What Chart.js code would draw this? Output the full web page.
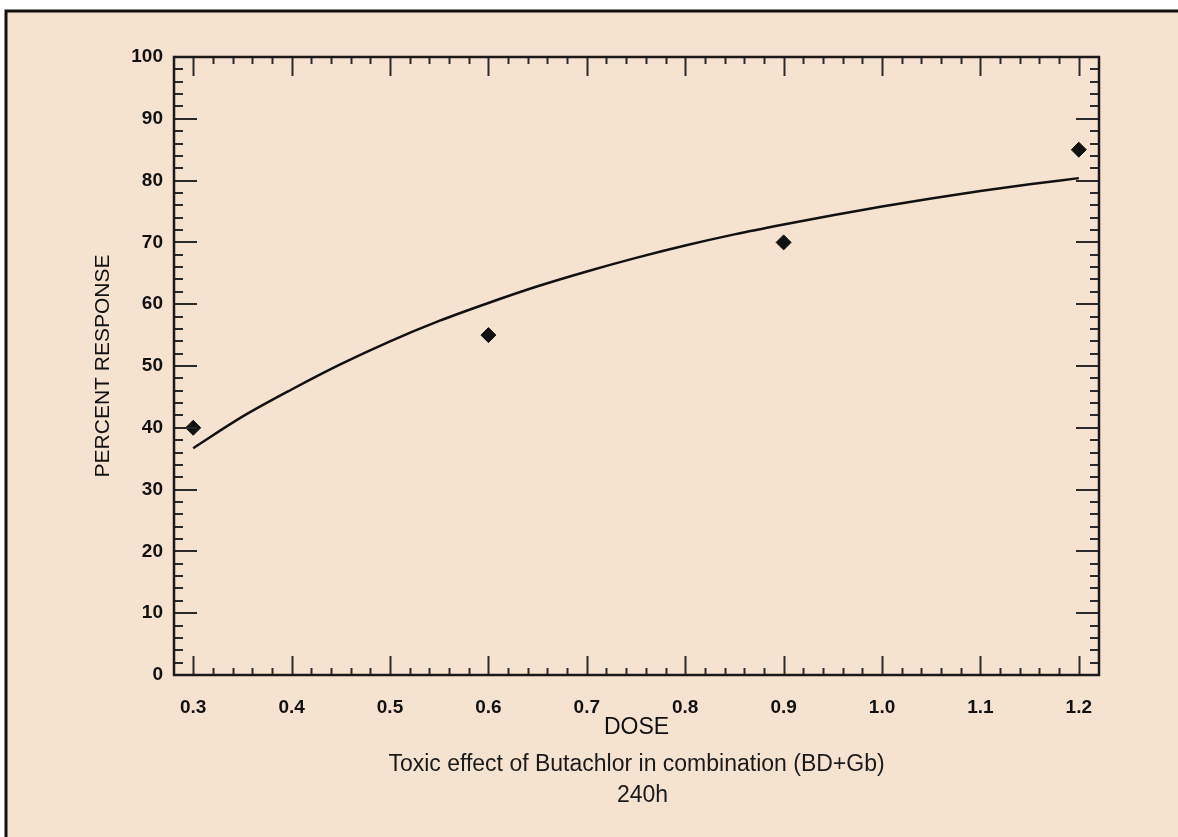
<!DOCTYPE html>
<html>
<head>
<meta charset="utf-8">
<script src="https://cdn.jsdelivr.net/npm/chart.js@4.4.1/dist/chart.umd.min.js"></script>
<style>
  html, body { margin: 0; padding: 0; background: #ffffff; }
  canvas { display: block; }
</style>
</head>
<body>
<canvas id="dose-chart" width="1178" height="837"></canvas>
<script>
// Fitted curve
const curveDose = [0.30, 0.35, 0.40, 0.45, 0.50, 0.55, 0.60, 0.65, 0.70, 0.75,
                   0.80, 0.85, 0.90, 0.95, 1.00, 1.05, 1.10, 1.15, 1.20];
const curveResponse = [36.7, 41.8, 46.2, 50.3, 54.0, 57.3, 60.2, 62.9, 65.3, 67.5,
                       69.5, 71.3, 72.9, 74.4, 75.8, 77.1, 78.3, 79.4, 80.4];

// Observed points (diamonds)
const obsDose = [0.3, 0.6, 0.9, 1.2];
const obsResponse = [40, 55, 70, 85];

// Tick labels
const xTickLabels = [0.3, 0.4, 0.5, 0.6, 0.7, 0.8, 0.9, 1.0, 1.1, 1.2];
const yTickLabels = [0, 10, 20, 30, 40, 50, 60, 70, 80, 90, 100];

const captionLines = ['Toxic effect of Butachlor in combination (BD+Gb)', '240h'];

Chart.defaults.font.family = '"Liberation Sans", Arial, sans-serif';
Chart.defaults.color = '#111';

const beige = '#f5e3d0';

// Page background with the black frame on top and left
const pageBackground = {
    id: 'pageBackground',
    beforeDraw(chart) {
        const ctx = chart.ctx;
        const w = chart.width, h = chart.height;
        ctx.save();
        ctx.fillStyle = '#ffffff';
        ctx.fillRect(0, 0, w, h);
        ctx.fillStyle = beige;
        ctx.fillRect(6, 11, w - 6, h - 11);
        ctx.strokeStyle = '#111';
        ctx.lineWidth = 3;
        ctx.beginPath();
        ctx.moveTo(6, h);
        ctx.lineTo(6, 11);
        ctx.lineTo(w, 11);
        ctx.stroke();
        ctx.restore();
    }
};

// Box around the plot with inward ticks on all four sides
const frameTicks = {
    id: 'frameTicks',
    afterDraw(chart) {
        const ctx = chart.ctx;
        const a = chart.chartArea;
        const x = chart.scales.x, y = chart.scales.y;
        ctx.save();
        ctx.strokeStyle = '#2a2a2a';
        ctx.lineWidth = 2;
        ctx.beginPath();

        const xTick = (v, len) => {
            const px = Math.round(x.getPixelForValue(v)) + 0.5;
            ctx.moveTo(px, a.bottom); ctx.lineTo(px, a.bottom - len);
            ctx.moveTo(px, a.top); ctx.lineTo(px, a.top + len);
        };
        const yTick = (v, len) => {
            const py = Math.round(y.getPixelForValue(v));
            ctx.moveTo(a.left, py); ctx.lineTo(a.left + len, py);
            ctx.moveTo(a.right, py); ctx.lineTo(a.right - len, py);
        };

        for (let i = 0; i < xTickLabels.length; i++) {
            xTick(xTickLabels[i], 19);
            if (i < xTickLabels.length - 1) {
                const step = (xTickLabels[i + 1] - xTickLabels[i]) / 5;
                for (let k = 1; k < 5; k++) xTick(xTickLabels[i] + k * step, 7);
            }
        }
        for (let i = 0; i < yTickLabels.length; i++) {
            yTick(yTickLabels[i], 23);
            if (i < yTickLabels.length - 1) {
                const step = (yTickLabels[i + 1] - yTickLabels[i]) / 5;
                for (let k = 1; k < 5; k++) yTick(yTickLabels[i] + k * step, 9);
            }
        }
        ctx.stroke();

        // plot frame
        ctx.strokeStyle = '#1a1a1a';
        ctx.lineWidth = 2.5;
        ctx.strokeRect(a.left, a.top, a.right - a.left, a.bottom - a.top);

        // caption under the axis title
        ctx.fillStyle = '#1a1a1a';
        ctx.font = '23px "Liberation Sans", Arial, sans-serif';
        ctx.textAlign = 'center';
        ctx.textBaseline = 'middle';
        const cx = (a.left + a.right) / 2;
        ctx.fillText(captionLines[0], cx, 765);
        ctx.fillText(captionLines[1], cx + 6, 796);
        ctx.restore();
    }
};

const ctx = document.getElementById('dose-chart').getContext('2d');

new Chart(ctx, {
    type: 'scatter',
    data: {
        datasets: [{
            label: 'Fitted',
            data: curveDose.map((d, i) => ({x: d, y: curveResponse[i]})),
            showLine: true,
            borderColor: '#111',
            borderWidth: 2.5,
            pointRadius: 0,
            cubicInterpolationMode: 'monotone'
        }, {
            label: 'Observed',
            data: obsDose.map((d, i) => ({x: d, y: obsResponse[i]})),
            pointStyle: 'rectRot',
            pointRadius: 7.5,
            backgroundColor: '#111',
            borderColor: '#111',
            borderWidth: 1
        }]
    },
    options: {
        responsive: false,
        animation: false,
        layout: {
            padding: {top: 57, right: 79, left: 0, bottom: 0}
        },
        plugins: {
            legend: {display: false},
            tooltip: {enabled: false}
        },
        scales: {
            x: {
                type: 'linear',
                position: 'bottom',
                min: 0.2805,
                max: 1.2205,
                grid: {display: false, drawTicks: false},
                border: {display: false},
                afterBuildTicks: (scale) => {
                    scale.ticks = xTickLabels.map(v => ({value: v}));
                },
                afterFit: (scale) => { scale.height = 162; },
                ticks: {
                    padding: 21,
                    maxRotation: 0,
                    font: {size: 19, weight: 'bold'},
                    callback: (v) => Number(v).toFixed(1)
                },
                title: {
                    display: true,
                    text: 'DOSE',
                    font: {size: 23},
                    padding: {bottom: 96}
                }
            },
            y: {
                type: 'linear',
                min: 0,
                max: 100,
                grid: {display: false, drawTicks: false},
                border: {display: false},
                afterBuildTicks: (scale) => {
                    scale.ticks = yTickLabels.map(v => ({value: v}));
                },
                afterFit: (scale) => { scale.width = 174; },
                ticks: {
                    padding: 11,
                    font: {size: 19, weight: 'bold'}
                },
                title: {
                    display: true,
                    text: 'PERCENT RESPONSE',
                    font: {size: 21},
                    padding: {top: 91}
                }
            }
        }
    },
    plugins: [pageBackground, frameTicks]
});
</script>
</body>
</html>
